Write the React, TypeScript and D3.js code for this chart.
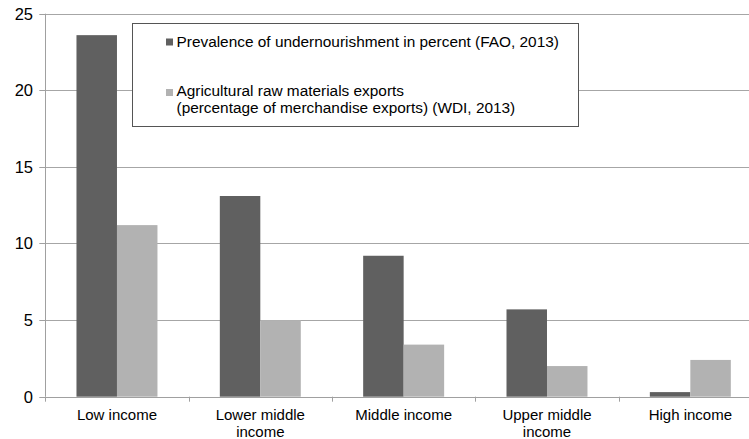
import React from "react";
import * as d3 from "d3";

const categories = ["Low income", "Lower middle income", "Middle income", "Upper middle income", "High income"];
const categoryLines = [["Low income"], ["Lower middle", "income"], ["Middle income"], ["Upper middle", "income"], ["High income"]];
const undernourishment = [23.6, 13.1, 9.2, 5.7, 0.3];
const agriExports = [11.2, 5.0, 3.4, 2.0, 2.4];
const yTicks = [0, 5, 10, 15, 20, 25];
const seriesNames = [
  ["Prevalence of undernourishment in percent (FAO, 2013)"],
  ["Agricultural raw materials exports", "(percentage of merchandise exports) (WDI, 2013)"],
];
const seriesColors = ["#606060", "#b2b2b2"];

const W = 749;
const H = 439;
const FONT = "'Liberation Sans', Arial, sans-serif";

export default function App() {
  const left = 45.3;
  const right = 762;
  const x = d3.scaleBand<string>().domain(categories).range([left, right]).paddingInner(0).paddingOuter(0);
  const y = d3.scaleLinear().domain([0, 25]).range([396.7, 13.7]);
  const inner = d3.scaleBand<number>().domain([0, 1]).range([0, x.bandwidth()]).paddingInner(0).paddingOuter(0.77);
  const series = [undernourishment, agriExports];
  const gridColor = "#a6a6a6";
  const axisColor = "#a0a0a0";

  return (
    <svg width={W} height={H} style={{ position: "absolute", left: 0, top: 0 }} fontFamily={FONT}>
      <rect x={0} y={0} width={W} height={H} fill="#fff" />
      {yTicks.map((t) => (
        <g key={t}>
          {t > 0 && <line x1={left} x2={W} y1={Math.round(y(t)) + 0.5} y2={Math.round(y(t)) + 0.5} stroke={gridColor} strokeWidth={1} />}
          <line x1={left - 6} x2={left} y1={Math.round(y(t)) + 0.5} y2={Math.round(y(t)) + 0.5} stroke={axisColor} strokeWidth={1} />
          <text x={33} y={y(t)} dy="0.36em" textAnchor="end" fontSize={16.5} fill="#000">
            {t}
          </text>
        </g>
      ))}
      {categories.map((c, i) =>
        series.map((s, k) => (
          <rect
            key={c + k}
            x={(x(c) as number) + (inner(k) as number)}
            y={y(s[i])}
            width={inner.bandwidth()}
            height={y(0) - y(s[i])}
            fill={seriesColors[k]}
          />
        ))
      )}
      <line x1={Math.round(left) + 0.5} x2={Math.round(left) + 0.5} y1={y(25)} y2={y(0)} stroke={axisColor} strokeWidth={1} />
      <line x1={left} x2={W} y1={Math.round(y(0)) + 0.5} y2={Math.round(y(0)) + 0.5} stroke={axisColor} strokeWidth={1} />
      {categories.map((c) => (
        <line
          key={"t" + c}
          x1={Math.round(x(c) as number) + 0.5}
          x2={Math.round(x(c) as number) + 0.5}
          y1={y(0)}
          y2={y(0) + 5}
          stroke={axisColor}
          strokeWidth={1}
        />
      ))}
      {categories.map((c, i) => (
        <text key={"l" + c} x={(x(c) as number) + x.bandwidth() / 2} y={420} textAnchor="middle" fontSize={15} fill="#000">
          {categoryLines[i].map((ln, j) => (
            <tspan key={j} x={(x(c) as number) + x.bandwidth() / 2} dy={j === 0 ? 0 : 17}>
              {ln}
            </tspan>
          ))}
        </text>
      ))}
      <rect x={132.5} y={23.5} width={446} height={103} fill="#fff" stroke="#555" strokeWidth={1} />
      {seriesNames.map((lines, k) => (
        <g key={"lg" + k}>
          <rect x={166} y={k === 0 ? 38.5 : 89} width={7} height={7} fill={seriesColors[k]} />
          <text x={176.5} y={k === 0 ? 46.5 : 96} fontSize={15.4} fill="#000">
            {lines.map((ln, j) => (
              <tspan key={j} x={176.5} dy={j === 0 ? 0 : 17.3}>
                {ln}
              </tspan>
            ))}
          </text>
        </g>
      ))}
    </svg>
  );
}
